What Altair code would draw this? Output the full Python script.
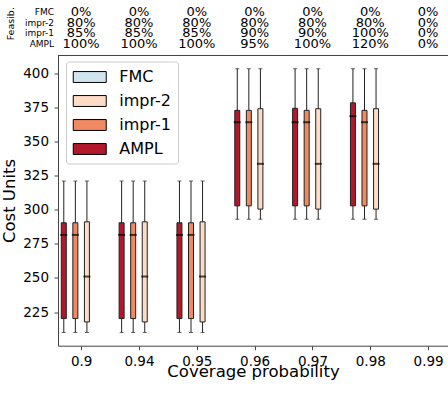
import altair as alt
import pandas as pd

# coverage levels on the x axis
coverage = ["0.9", "0.94", "0.95", "0.96", "0.97", "0.98", "0.99"]

# methods, in the order the boxes sit inside each group (left to right)
methods = ["AMPL", "impr-1", "impr-2", "FMC"]
# legend / feasibility-table order (top to bottom) and matching colours
legend_order = ["FMC", "impr-2", "impr-1", "AMPL"]
legend_colors = ["#d1e5f0", "#fddbc7", "#ef8a62", "#b2182b"]

# box statistics per coverage level (None = no feasible solution)
ampl_low = [210, 210, 210, 293, 293, 293, None]
ampl_q1 = [220.2, 220.2, 220.2, 302.8, 302.8, 302.8, None]
ampl_med = [281.5, 281.5, 281.5, 364.1, 364.1, 368.5, None]
ampl_q3 = [290.4, 290.4, 290.4, 372.8, 374.3, 378.3, None]
ampl_high = [321, 321, 321, 403.3, 403.3, 403.3, None]

impr1_low = [210, 210, 210, 293, 293, 293, None]
impr1_q1 = [220.2, 220.2, 220.2, 302.8, 302.8, 302.8, None]
impr1_med = [281.5, 281.5, 281.5, 364.1, 364.1, 364.1, None]
impr1_q3 = [290.4, 290.4, 290.4, 372.8, 372.8, 372.8, None]
impr1_high = [321, 321, 321, 403.3, 403.3, 403.3, None]

impr2_low = [210, 210, 210, 293, 293, 293, None]
impr2_q1 = [217.7, 217.7, 217.7, 300.4, 300.4, 300.4, None]
impr2_med = [251, 251, 251, 333.6, 333.6, 333.6, None]
impr2_q3 = [291.1, 291.1, 291.1, 374, 374, 374, None]
impr2_high = [321, 321, 321, 403.3, 403.3, 403.3, None]

fmc_low = [None] * 7
fmc_q1 = [None] * 7
fmc_med = [None] * 7
fmc_q3 = [None] * 7
fmc_high = [None] * 7

# feasibility percentages shown above the plot
feas_fmc = [0, 0, 0, 0, 0, 0, 0]
feas_impr2 = [80, 80, 80, 80, 80, 80, 0]
feas_impr1 = [85, 85, 85, 90, 90, 100, 0]
feas_ampl = [100, 100, 100, 95, 100, 120, 0]

stats = {
    "AMPL": (ampl_low, ampl_q1, ampl_med, ampl_q3, ampl_high),
    "impr-1": (impr1_low, impr1_q1, impr1_med, impr1_q3, impr1_high),
    "impr-2": (impr2_low, impr2_q1, impr2_med, impr2_q3, impr2_high),
    "FMC": (fmc_low, fmc_q1, fmc_med, fmc_q3, fmc_high),
}
feas = {"FMC": feas_fmc, "impr-2": feas_impr2, "impr-1": feas_impr1, "AMPL": feas_ampl}

BOX_STEP = 0.2  # distance between neighbouring boxes in a group (x units)

rows = []
for j, m in enumerate(methods):
    low, q1, med, q3, high = stats[m]
    for i in range(len(coverage)):
        if med[i] is None:
            continue
        rows.append({
            "method": m,
            "pos": (i + 1) + (j - 1.5) * BOX_STEP,
            "low": low[i], "q1": q1[i], "med": med[i], "q3": q3[i], "high": high[i],
        })
boxes = pd.DataFrame(rows)

feas_rows = []
for m in legend_order:
    for i in range(len(coverage)):
        feas_rows.append({"method": m, "idx": i + 1, "label": f"{feas[m][i]}%"})
feas_df = pd.DataFrame(feas_rows)

X_MIN, X_MAX = 0.6, 7.344
Y_MIN, Y_MAX = 200.3, 413.0
SPINE = "#444444"

label_expr = "[" + ",".join(f"'{c}'" for c in coverage) + "][datum.value - 1]"
x_axis = alt.Axis(
    values=list(range(1, len(coverage) + 1)), labelExpr=label_expr,
    title="Coverage probability", grid=False, tickSize=4, labelPadding=5,
    labelFontSize=13.5, titleFontSize=16.5, titleFontWeight="normal",
    titleBaseline="alphabetic", titleY=31, domainColor=SPINE, tickColor=SPINE,
    labelColor="black", titleColor="black",
)
x_scale = alt.Scale(domain=[X_MIN, X_MAX], nice=False, zero=False, padding=0)
y_axis = alt.Axis(
    values=[225, 250, 275, 300, 325, 350, 375, 400], title="Cost Units",
    grid=False, tickSize=4, labelPadding=5.5, labelFontSize=13.5,
    titleFontSize=16.5, titleFontWeight="normal", titleX=-49, titleY=145,
    titleBaseline="middle", titleAlign="center", titleAngle=270,
    domainColor=SPINE, tickColor=SPINE, labelColor="black", titleColor="black",
)
y_scale = alt.Scale(domain=[Y_MIN, Y_MAX], nice=False, zero=False, padding=0)
color_scale = alt.Scale(domain=legend_order, range=legend_colors)


def xenc(field):
    return alt.X(field, scale=x_scale, axis=x_axis, title="Coverage probability")


def yenc(field):
    return alt.Y(field, scale=y_scale, axis=y_axis, title="Cost Units")


base = alt.Chart(boxes)

whiskers = base.mark_rule(color="#222222", strokeWidth=1).encode(
    x=xenc("pos:Q"), y=yenc("low:Q"), y2="high:Q",
)
box = base.mark_bar(size=5, stroke="#222222", strokeWidth=1).encode(
    x=xenc("pos:Q"), y=yenc("q1:Q"), y2="q3:Q",
    color=alt.Color(
        "method:N", scale=color_scale,
        legend=alt.Legend(
            title=None, orient="none", legendX=8, legendY=6,
            symbolType="M-2,-0.66H2V0.66H-2Z", symbolSize=272, symbolOffset=8.25,
            symbolStrokeColor="black", symbolStrokeWidth=1, symbolOpacity=1,
            labelFontSize=16, labelColor="black", labelOffset=20.5, rowPadding=7,
            padding=6.5, strokeColor="#cccccc", fillColor="rgba(255,255,255,0.8)",
            cornerRadius=3,
        ),
    ),
)
medians = base.mark_tick(orient="horizontal", size=7, thickness=2, color="black").encode(
    x=xenc("pos:Q"), y=yenc("med:Q"),
)
caps_low = base.mark_tick(orient="horizontal", size=4, thickness=1, color="#222222").encode(
    x=xenc("pos:Q"), y=yenc("low:Q"),
)
caps_high = base.mark_tick(orient="horizontal", size=4, thickness=1, color="#222222").encode(
    x=xenc("pos:Q"), y=yenc("high:Q"),
)
top_spine = alt.Chart(pd.DataFrame({"top": [Y_MAX]})).mark_rule(color=SPINE, strokeWidth=1).encode(
    y=yenc("top:Q"),
)

plot = alt.layer(whiskers, box, medians, caps_low, caps_high, top_spine)

# feasibility table above the plot area
row_scale = alt.Scale(type="point", domain=legend_order, range=[-43.2, -11.5], padding=0)
feas_values = alt.Chart(feas_df).mark_text(fontSize=13, align="center", baseline="middle", color="black").encode(
    x=xenc("idx:Q"),
    y=alt.Y("method:N", scale=row_scale, axis=None),
    text="label:N",
)
row_names = alt.Chart(pd.DataFrame({"method": legend_order})).mark_text(
    fontSize=9, align="right", baseline="middle", color="black"
).encode(
    x=alt.value(-4),
    y=alt.Y("method:N", scale=row_scale, axis=None),
    text="method:N",
)
row_title = alt.Chart(pd.DataFrame({"t": ["Feasib."]})).mark_text(
    fontSize=9.5, align="center", baseline="middle", angle=270, color="black"
).encode(
    x=alt.value(-47),
    y=alt.value(-31.8),
    text="t:N",
)
table = alt.layer(feas_values, row_names, row_title)

chart = (
    alt.layer(plot, table)
    .resolve_scale(y="independent")
    .properties(
        width=390, height=290.2,
        autosize=alt.AutoSizeParams(type="none"),
        padding={"left": 58, "top": 55.5, "right": 0, "bottom": 48.3},
    )
    .configure(font="DejaVu Sans")
    .configure_view(stroke=None)
)

chart.save("out.html", embed_options={"renderer": "svg", "actions": False})
